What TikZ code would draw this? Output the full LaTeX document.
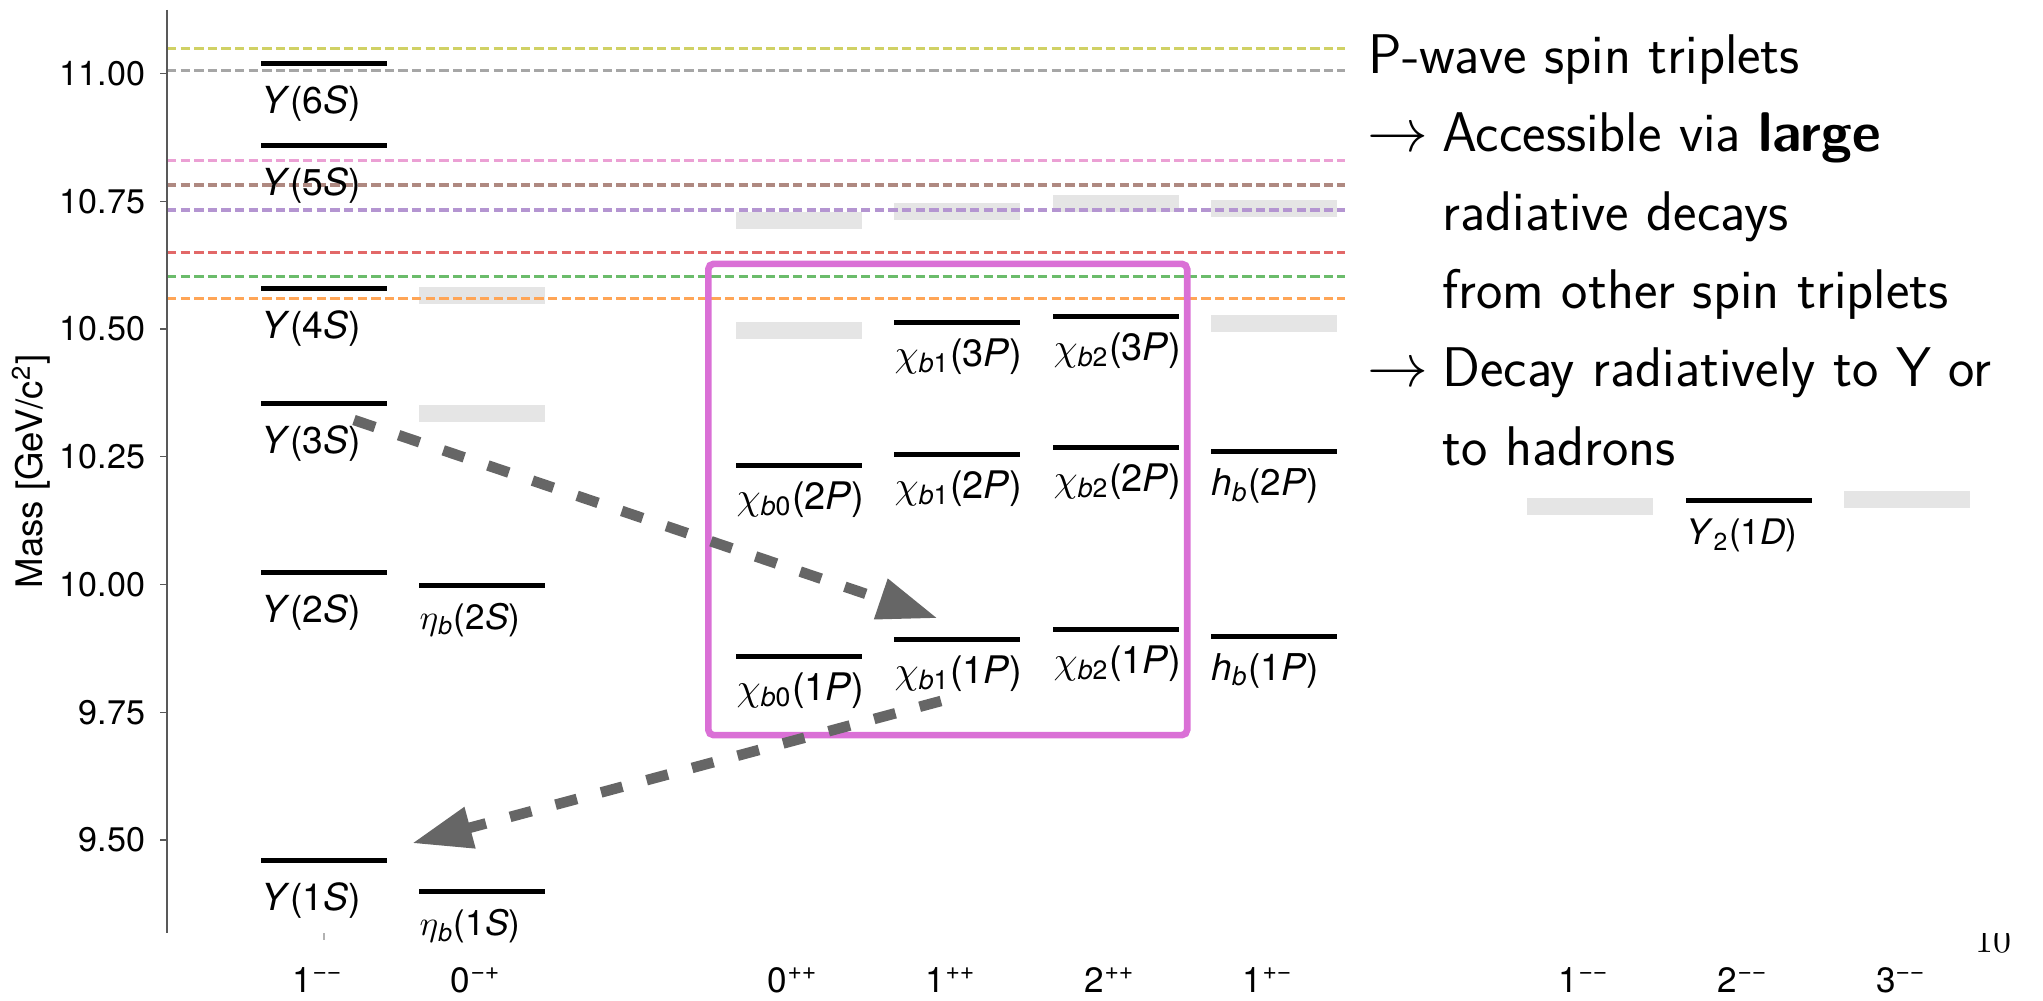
\documentclass[tikz,border=0pt]{standalone}
\usepackage{fontspec}
\newfontfamily\plotfont{TeX Gyre Heros}
\usetikzlibrary{arrows.meta}
\definecolor{thrOlive}{RGB}{208,209,100}
\definecolor{thrGrey}{RGB}{166,166,166}
\definecolor{thrPink}{RGB}{235,160,212}
\definecolor{thrBrown}{RGB}{175,137,129}
\definecolor{thrPurple}{RGB}{180,149,209}
\definecolor{thrRed}{RGB}{226,104,104}
\definecolor{thrGreen}{RGB}{107,188,107}
\definecolor{thrOrange}{RGB}{255,165,86}
\definecolor{predGrey}{RGB}{229,229,229}
\definecolor{arrowGrey}{RGB}{102,102,102}
\definecolor{boxOrchid}{RGB}{218,112,214}
\newcommand\mY[1]{(73.5+511*(11-#1))}
\newcommand\lev[5]{%
  \node[levelbar] (#1) at (#2,{\mY{#3}}) {};
  \node[lvllabel] (#1-l) at ([yshift=-#5]#1.west) {#4};}
\newcommand\predlev[3]{\node[predbar] (#1) at (#2,{\mY{#3}}) {};}
\newcommand\chisz{\fontsize{10.8}{12}\selectfont}
\begin{document}
\begin{tikzpicture}[x=0.01cm, y=-0.01cm,
  levelbar/.style={rectangle, fill=black, draw=none, inner sep=0pt, outer sep=0pt,
    minimum width=1.26cm, minimum height=0.05cm},
  predbar/.style={rectangle, fill=predGrey, draw=none, inner sep=0pt, outer sep=0pt,
    minimum width=1.26cm, minimum height=0.17cm},
  lvllabel/.style={anchor=base west, inner sep=0pt, font=\plotfont\fontsize{10}{12}\selectfont},
  thrline/.style={line width=0.95pt, dash pattern=on 2.67pt off 1.2pt},
  axisline/.style={line width=0.4pt, draw=black!65},
  ticklabel/.style={anchor=east, inner sep=0pt, font=\plotfont\fontsize{9.7}{11}\selectfont},
  jpclabel/.style={anchor=base, inner sep=0pt, font=\plotfont\fontsize{10}{12}\selectfont},
  decay/.style={line width=3pt, draw=arrowGrey, dash pattern=on 6.3pt off 7.1pt,
    -{Triangle[length=17.1pt,width=11.4pt]}},
  pbox/.style={rectangle, draw=boxOrchid, line width=1.9pt, rounded corners=1.5pt,
    inner sep=0pt, minimum width=4.785cm, minimum height=4.71cm},
  slidetext/.style={anchor=base west, inner sep=0pt, font=\sffamily\fontsize{15.9}{19}\selectfont},
  pagenum/.style={anchor=base west, inner sep=0pt, font=\rmfamily\fontsize{10.2}{12}\selectfont}
]
\useasboundingbox (0,0) rectangle (2043,1001);

% predicted (unobserved) states
\predlev{pEta3}{482}{10.565}
\predlev{pEta2}{482}{10.334}
\predlev{pChi0c}{799}{10.712}
\predlev{pChi0b}{799}{10.497}
\predlev{pChi1d}{957}{10.730}
\predlev{pChi2d}{1116}{10.746}
\predlev{pHb4}{1274}{10.735}
\predlev{pHb3}{1274}{10.511}
\predlev{pD1}{1590}{10.152}
\predlev{pD3}{1907}{10.167}

% thresholds
\foreach \yy/\cc in {48.3/thrOlive, 70.7/thrGrey, 160.7/thrPink, 185/thrBrown,
                     210/thrPurple, 252.7/thrRed, 276.7/thrGreen, 298.7/thrOrange}
  \draw[thrline, draw=\cc] (167,\yy) -- (1345,\yy);

% axis
\draw[axisline] (167,10) -- (167,933);
\foreach \m/\t in {11/11.00, 10.75/10.75, 10.5/10.50, 10.25/10.25, 10/10.00, 9.75/9.75, 9.5/9.50}{
  \draw[axisline] (160,{\mY{\m}}) -- (167,{\mY{\m}});
  \node[ticklabel] (tick\t) at (146,{\mY{\m}}) {\t};
}
\draw[line width=0.3pt, draw=black!30] (324,933) -- (324,940);
\node[rotate=90, inner sep=0pt, font=\plotfont\fontsize{10.4}{12}\selectfont] (ylab) at (31,471.5)
  {Mass [GeV/c\textsuperscript{2}]};

% observed levels
\lev{ups6}{324}{11.020}{\fontsize{10.6}{12}\selectfont\textit{Y}(6\textit{S})}{0.50cm}
\lev{ups5}{324}{10.860}{\fontsize{10.6}{12}\selectfont\textit{Y}(5\textit{S})}{0.50cm}
\lev{ups4}{324}{10.579}{\fontsize{10.6}{12}\selectfont\textit{Y}(4\textit{S})}{0.50cm}
\lev{ups3}{324}{10.355}{\fontsize{10.6}{12}\selectfont\textit{Y}(3\textit{S})}{0.50cm}
\lev{ups2}{324}{10.023}{\fontsize{10.6}{12}\selectfont\textit{Y}(2\textit{S})}{0.50cm}
\lev{ups1}{324}{9.460}{\fontsize{10.6}{12}\selectfont\textit{Y}(1\textit{S})}{0.50cm}
\lev{eta2}{482}{9.999}{$\eta$\textsubscript{\textit{b}}(2\textit{S})}{0.44cm}
\lev{eta1}{482}{9.399}{$\eta$\textsubscript{\textit{b}}(1\textit{S})}{0.44cm}
\lev{chi01}{799}{9.859}{\chisz$\chi$\textsubscript{\textit{b}0}(1\textit{P})}{0.44cm}
\lev{chi02}{799}{10.233}{\chisz$\chi$\textsubscript{\textit{b}0}(2\textit{P})}{0.44cm}
\lev{chi11}{957}{9.893}{\chisz$\chi$\textsubscript{\textit{b}1}(1\textit{P})}{0.44cm}
\lev{chi12}{957}{10.255}{\chisz$\chi$\textsubscript{\textit{b}1}(2\textit{P})}{0.44cm}
\lev{chi13}{957}{10.513}{\chisz$\chi$\textsubscript{\textit{b}1}(3\textit{P})}{0.44cm}
\lev{chi21}{1116}{9.912}{\chisz$\chi$\textsubscript{\textit{b}2}(1\textit{P})}{0.44cm}
\lev{chi22}{1116}{10.269}{\chisz$\chi$\textsubscript{\textit{b}2}(2\textit{P})}{0.44cm}
\lev{chi23}{1116}{10.524}{\chisz$\chi$\textsubscript{\textit{b}2}(3\textit{P})}{0.44cm}
\lev{hb1}{1274}{9.899}{\fontsize{10.5}{12}\selectfont\textit{h}\textsubscript{\textit{b}}(1\textit{P})}{0.44cm}
\lev{hb2}{1274}{10.260}{\fontsize{10.5}{12}\selectfont\textit{h}\textsubscript{\textit{b}}(2\textit{P})}{0.44cm}
\lev{ups2D}{1749}{10.164}{\textit{Y}\textsubscript{2}(1\textit{D})}{0.44cm}

% J^PC labels
\node[jpclabel] (jpc1) at (318,992) {1\textsuperscript{−−}};
\node[jpclabel] (jpc2) at (476,992) {0\textsuperscript{−+}};
\node[jpclabel] (jpc3) at (793,992) {0\textsuperscript{++}};
\node[jpclabel] (jpc4) at (951,992) {1\textsuperscript{++}};
\node[jpclabel] (jpc5) at (1110,992) {2\textsuperscript{++}};
\node[jpclabel] (jpc6) at (1268,992) {1\textsuperscript{+−}};
\node[jpclabel] (jpc7) at (1584,992) {1\textsuperscript{−−}};
\node[jpclabel] (jpc8) at (1743,992) {2\textsuperscript{−−}};
\node[jpclabel] (jpc9) at (1901,992) {3\textsuperscript{−−}};

% P-wave box
\node[pbox] (box) at (947.75,499.5) {};

% radiative decay arrows
\coordinate (a1s) at (354,420);
\coordinate (a1e) at (937.7,618.3);
\coordinate (a2s) at (941,701);
\coordinate (a2e) at (412,843.3);
\draw[decay] (a1s) -- (a1e);
\draw[decay] (a2s) -- (a2e);

% slide text
\node[slidetext] (t1) at (1368,73.3) {P-wave spin triplets};
\node[slidetext] (ar1) at (1367,151.7) {$\rightarrow$};
\node[slidetext] (t2) at (1441.7,151.7) {Accessible via \textbf{large}};
\node[slidetext] (t3) at (1441.7,230.1) {radiative decays};
\node[slidetext] (t4) at (1441.7,308.5) {from other spin triplets};
\node[slidetext] (ar2) at (1367,386.9) {$\rightarrow$};
\node[slidetext] (t5) at (1441.7,386.9) {Decay radiatively to Y or};
\node[slidetext] (t6) at (1441.7,465.3) {to hadrons};

% page number (clipped)
\begin{scope}
  \clip (1960,933) rectangle (2043,1001);
  \node[pagenum] (pg) at (1975,952) {10};
\end{scope}
\end{tikzpicture}
\end{document}
